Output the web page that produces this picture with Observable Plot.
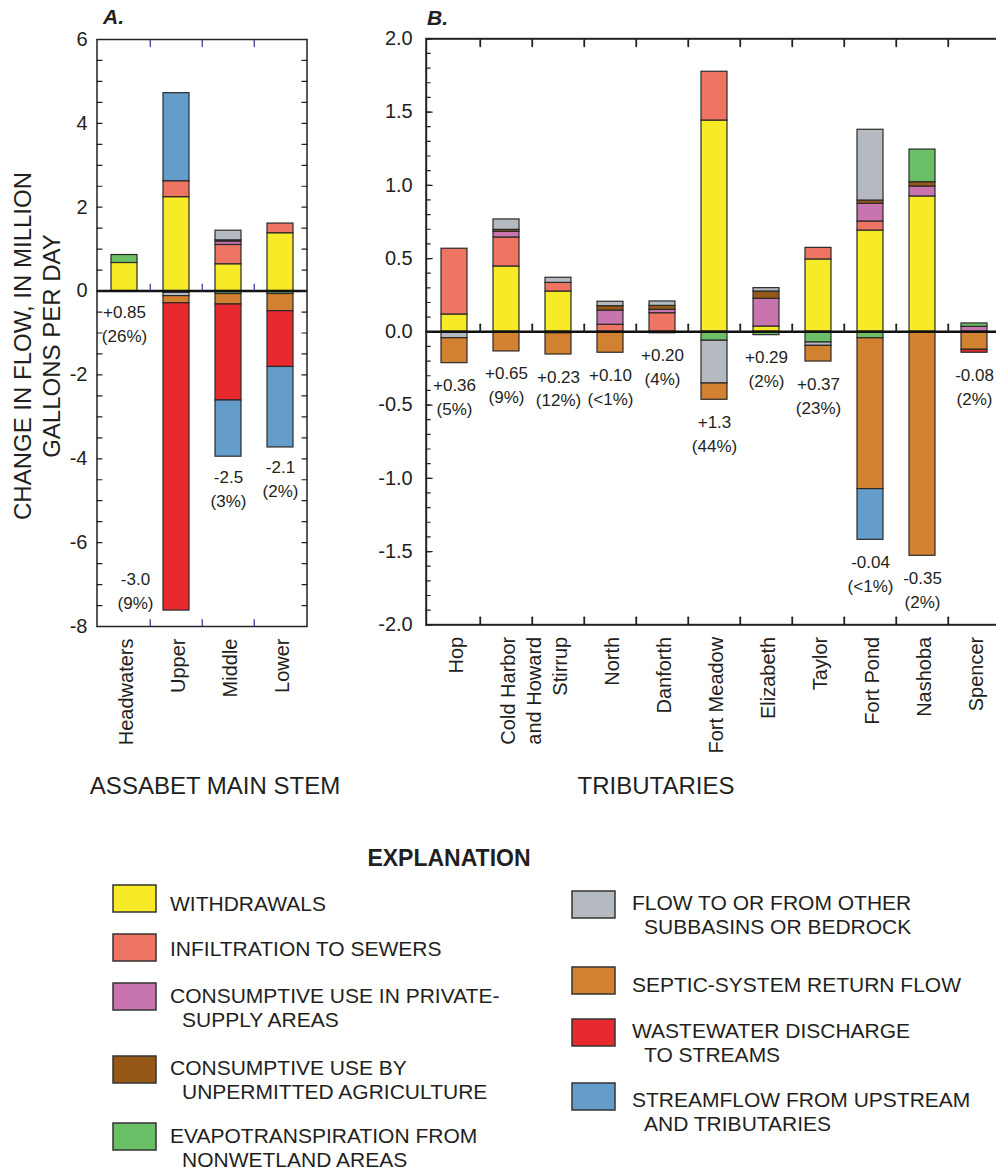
<!DOCTYPE html>
<html><head><meta charset="utf-8">
<script src="https://cdn.jsdelivr.net/npm/d3@7"></script>
<script src="https://cdn.jsdelivr.net/npm/@observablehq/plot@0.6"></script>
<style>
html,body{margin:0;padding:0;background:#fff;overflow:hidden;}
#root{position:relative;width:996px;height:1171px;overflow:hidden;font-family:"Liberation Sans",Arial,sans-serif;color:#231f20;}
#panelA{position:absolute;left:0;top:0;width:320px;height:770px;}
#panelB{position:absolute;left:340px;top:0;width:680px;height:770px;}
#overlay{position:absolute;left:0;top:0;pointer-events:none;}
</style></head>
<body><div id="root"><div id="panelA"></div><div id="panelB"></div><svg id="overlay" width="996" height="1171"></svg></div>
<script>
// ---------------- DATA ----------------
const keys = ["withdrawals","infiltration","privateUse","agriculture","evapotranspiration","otherSubbasins","septic","wastewater","streamflow"];
const colors = ["#f7ea27","#ee7563","#c874ae","#955816","#6bbf67","#b4bac0","#d1812f","#e8292d","#659dca"];
const legendLabels = [
  ["WITHDRAWALS"],
  ["INFILTRATION TO SEWERS"],
  ["CONSUMPTIVE USE IN PRIVATE-","SUPPLY AREAS"],
  ["CONSUMPTIVE USE BY","UNPERMITTED AGRICULTURE"],
  ["EVAPOTRANSPIRATION FROM","NONWETLAND AREAS"],
  ["FLOW TO OR FROM OTHER","SUBBASINS OR BEDROCK"],
  ["SEPTIC-SYSTEM RETURN FLOW"],
  ["WASTEWATER DISCHARGE","TO STREAMS"],
  ["STREAMFLOW FROM UPSTREAM","AND TRIBUTARIES"]
];

// Panel A: Assabet main stem
const mainStem = ["Headwaters","Upper","Middle","Lower"];
const withdrawalsA       = [0.67, 2.24, 0.64, 1.38];
const infiltrationA      = [0, 0.38, 0.46, 0.23];
const privateUseA        = [0, 0, 0.08, 0];
const agricultureA       = [-0.015, 0, 0.03, 0];
const evapotranspirationA= [0.19, -0.04, -0.07, -0.07];
const otherSubbasinsA    = [0, -0.08, 0.23, 0];
const septicA            = [0, -0.17, -0.25, -0.41];
const wastewaterA        = [0, -7.33, -2.29, -1.33];
const streamflowA        = [0, 2.10, -1.34, -1.92];
const changeA = ["+0.85","-3.0","-2.5","-2.1"];
const pctA    = ["26%","9%","3%","2%"];
const yTicksA = [-8,-6,-4,-2,0,2,4,6];

// Panel B: tributaries
const tributaries = ["Hop","Cold Harbor\nand Howard","Stirrup","North","Danforth","Fort Meadow","Elizabeth","Taylor","Fort Pond","Nashoba","Spencer"];
const withdrawalsB       = [0.118, 0.446, 0.275, 0, 0, 1.442, 0.036, 0.494, 0.691, 0.924, 0];
const infiltrationB      = [0.449, 0.198, 0.059, 0.048, 0.127, 0.333, 0, 0.079, 0.062, 0, 0];
const privateUseB        = [0, 0.039, 0, 0.097, 0.023, 0, 0.189, 0, 0.121, 0.068, 0.034];
const agricultureB       = [0, 0.013, -0.01, 0.03, 0.027, 0, 0.05, 0, 0.022, 0.029, 0];
const evapotranspirationB= [0, 0, 0, 0, -0.01, -0.061, -0.023, -0.073, -0.044, 0.223, 0.023];
const otherSubbasinsB    = [-0.044, 0.071, 0.035, 0.03, 0.03, -0.292, 0.023, -0.023, 0.483, 0, 0];
const septicB            = [-0.17, -0.134, -0.145, -0.143, 0, -0.111, 0, -0.107, -1.03, -1.529, -0.123];
const wastewaterB        = [0, 0, 0, 0, 0, 0, 0, 0, 0, 0, -0.02];
const streamflowB        = [0, 0, 0, 0, 0, 0, 0, 0, -0.346, 0, 0];
const changeB = ["+0.36","+0.65","+0.23","+0.10","+0.20","+1.3","+0.29","+0.37","-0.04","-0.35","-0.08"];
const pctB    = ["5%","9%","12%","<1%","4%","44%","2%","23%","<1%","2%","2%"];
const yTicksB = [-2,-1.5,-1,-0.5,0,0.5,1,1.5,2];

// ---------------- HELPERS ----------------
const FONT = '"Liberation Sans", Arial, Helvetica, sans-serif';
const INK = "#231f20";
const seriesA = [withdrawalsA, infiltrationA, privateUseA, agricultureA, evapotranspirationA, otherSubbasinsA, septicA, wastewaterA, streamflowA];
const seriesB = [withdrawalsB, infiltrationB, privateUseB, agricultureB, evapotranspirationB, otherSubbasinsB, septicB, wastewaterB, streamflowB];

function toRows(cats, series) {
  const out = [];
  cats.forEach((c, i) => series.forEach((s, k) => { if (s[i] !== 0) out.push({cat: c, comp: keys[k], value: s[i]}); }));
  return out;
}
function labelRows(cats, series, change, pct) {
  return cats.map((c, i) => ({cat: c, bottom: d3.sum(series, s => Math.min(0, s[i])), text: change[i] + "\n(" + pct[i] + ")"}));
}
const line = {draw(ctx, l) { ctx.moveTo(0, 0); ctx.lineTo(0, -l); }};
function ticks(data, o) {
  return Plot.vector(data, {anchor: "start", shape: line, stroke: "#222", strokeWidth: 1.2, ...o});
}

// ---------------- PANEL A ----------------
const rowsA = toRows(mainStem, seriesA);
const labA = labelRows(mainStem, seriesA, changeA, pctA);
const minorA = d3.range(-8, 6.001, 0.5);
const blue = "#2e3192";
const plotA = Plot.plot({
  width: 320, height: 770,
  marginLeft: 96.5, marginRight: 13.5, marginTop: 39, marginBottom: 144,
  style: {fontFamily: FONT, color: INK, background: "none", overflow: "visible"},
  x: {domain: mainStem, paddingInner: 0.5, paddingOuter: 0.25, axis: null},
  y: {domain: [-8, 6]},
  color: {domain: keys, range: colors},
  marks: [
    Plot.barY(rowsA, {x: "cat", y: "value", fill: "comp", stroke: "#2a2a2a", strokeWidth: 1.2}),
    Plot.ruleY([0], {stroke: "#111", strokeWidth: 2.5}),
    ticks(minorA, {y: d => d, frameAnchor: "left", rotate: 90, length: 5}),
    ticks(minorA, {y: d => d, frameAnchor: "right", rotate: -90, length: 5}),
    ticks(mainStem.slice(1), {x: d => d, dx: -26.25, frameAnchor: "top", rotate: 180, length: 7, stroke: blue}),
    ticks(mainStem.slice(1), {x: d => d, y: () => 0, dx: -26.25, rotate: 0, length: 7, stroke: blue}),
    ticks(mainStem.slice(1), {x: d => d, dx: -26.25, frameAnchor: "bottom", rotate: 0, length: 7, stroke: blue}),
    Plot.frame({stroke: "#222", strokeWidth: 1.5}),
    Plot.axisY(yTicksA, {tickSize: 0, tickPadding: 9.5, fontSize: 20, tickFormat: d => String(d)}),
    Plot.text(labA.filter(d => d.cat !== "Upper"), {x: "cat", y: "bottom", text: "text", lineAnchor: "top", dy: 9, fontSize: 17, lineHeight: 1.41, fill: INK}),
    Plot.text(labA.filter(d => d.cat === "Upper"), {x: "cat", y: "bottom", text: "text", lineAnchor: "bottom", dx: -41, dy: -2, fontSize: 17, lineHeight: 1.41, fill: INK}),
    Plot.text(mainStem, {x: d => d, frameAnchor: "bottom", rotate: -90, textAnchor: "end", lineAnchor: "top", dy: 12, dx: -10, fontSize: 20, lineHeight: 1.3, fill: INK})
  ]
});
document.getElementById("panelA").appendChild(plotA);

// ---------------- PANEL B ----------------
const rowsB = toRows(tributaries, seriesB);
const labB = labelRows(tributaries, seriesB, changeB, pctB);
const minorB = d3.range(-2, 2.001, 0.1);
const plotB = Plot.plot({
  width: 680, height: 770,
  marginLeft: 85.7, marginRight: 16.8, marginTop: 38.3, marginBottom: 145.7,
  style: {fontFamily: FONT, color: INK, background: "none", overflow: "visible"},
  x: {domain: tributaries, paddingInner: 0.5, paddingOuter: 0.25, axis: null},
  y: {domain: [-2, 2]},
  color: {domain: keys, range: colors},
  marks: [
    Plot.barY(rowsB, {x: "cat", y: "value", fill: "comp", stroke: "#2a2a2a", strokeWidth: 1.2}),
    Plot.ruleY([0], {stroke: "#111", strokeWidth: 2.5}),
    ticks(minorB, {y: d => d, frameAnchor: "left", rotate: 90, length: 4}),
    ticks(yTicksB, {y: d => d, frameAnchor: "left", rotate: 90, length: 6}),
    ticks(tributaries.slice(1), {x: d => d, dx: -26.25, frameAnchor: "top", rotate: 180, length: 7.5, strokeWidth: 1.8}),
    ticks(tributaries.slice(1), {x: d => d, y: () => 0, dx: -26.25, rotate: 0, length: 7.5, strokeWidth: 1.8}),
    ticks(tributaries.slice(1), {x: d => d, dx: -26.25, frameAnchor: "bottom", rotate: 0, length: 7.5, strokeWidth: 1.8}),
    Plot.frame({stroke: "#222", strokeWidth: 2}),
    Plot.axisY(yTicksB, {tickSize: 0, tickPadding: 13.5, fontSize: 20, tickFormat: d => d.toFixed(1)}),
    Plot.text(labB, {x: "cat", y: "bottom", text: "text", lineAnchor: "top", dy: 11, fontSize: 17, lineHeight: 1.41, fill: INK}),
    Plot.text(tributaries, {x: d => d, frameAnchor: "bottom", rotate: -90, textAnchor: "end", lineAnchor: "top", dy: 12, dx: -10, fontSize: 20, lineHeight: 1.3, fill: INK})
  ]
});
document.getElementById("panelB").appendChild(plotB);

// ---------------- OVERLAY TEXT & LEGEND ----------------
const svg = d3.select("#overlay").style("font-family", FONT);
function txt(x, y, s, o = {}) {
  const t = svg.append("text").attr("x", x).attr("y", y).text(s).attr("fill", INK)
    .attr("font-size", o.size || 21).attr("text-anchor", o.anchor || "start");
  if (o.weight) t.attr("font-weight", o.weight);
  if (o.style) t.attr("font-style", o.style);
  if (o.transform) t.attr("transform", o.transform);
  return t;
}
txt(103, 24, "A.", {size: 21, weight: "bold", style: "italic"});
txt(427, 25, "B.", {size: 21, weight: "bold", style: "italic"});
txt(0, 0, "CHANGE IN FLOW, IN MILLION", {size: 24, anchor: "middle", transform: "translate(31,346) rotate(-90)"});
txt(0, 0, "GALLONS PER DAY", {size: 24, anchor: "middle", transform: "translate(59.5,346) rotate(-90)"});
txt(215, 794, "ASSABET MAIN STEM", {size: 24, anchor: "middle"});
txt(656, 794, "TRIBUTARIES", {size: 24, anchor: "middle"});
txt(449, 866, "EXPLANATION", {size: 23, anchor: "middle", weight: "bold"});

const legendCols = [
  {sx: 113, tx: 170, items: [0,1,2,3,4], tops: [885, 934, 983, 1056, 1123], bases: [911, 956, 1003, 1075, 1143]},
  {sx: 572, tx: 632, items: [5,6,7,8], tops: [891, 967, 1019, 1083], bases: [910, 992, 1038, 1107]}
];
legendCols.forEach(col => col.items.forEach((k, j) => {
  svg.append("rect").attr("x", col.sx).attr("y", col.tops[j]).attr("width", 43).attr("height", 27)
    .attr("fill", colors[k]).attr("stroke", "#333").attr("stroke-width", 1.5);
  legendLabels[k].forEach((s, li) => txt(col.tx + (li ? 12 : 0), col.bases[j] + li * 24, s, {size: 21}));
}));
</script></body></html>
